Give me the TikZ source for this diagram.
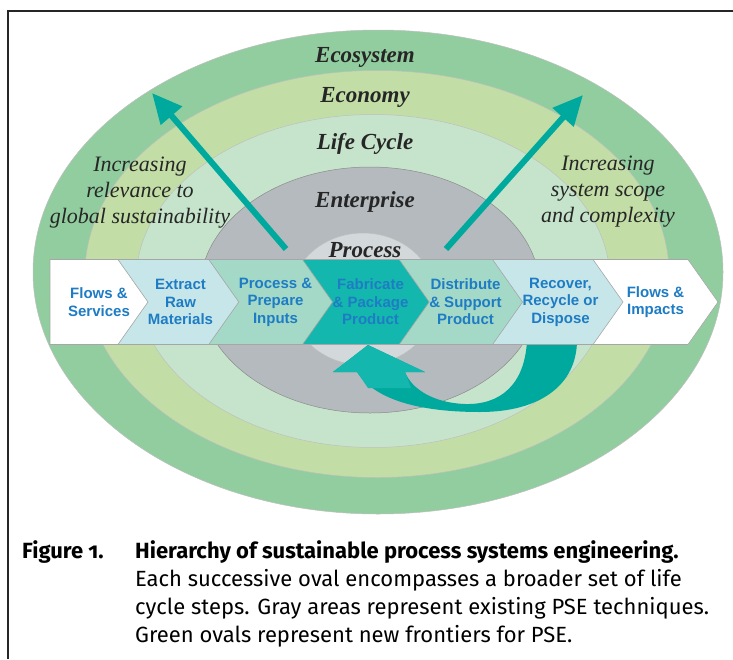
\documentclass[tikz,border=0pt]{standalone}
\usepackage{fontspec}
\setmainfont{Liberation Serif}
\setsansfont{Liberation Sans}
\newfontfamily\capfont{Fira Sans}[Numbers=OldStyle]
\usepackage{tikz}
\usetikzlibrary{shapes.geometric,shapes.symbols,arrows.meta}
\definecolor{ecogreen}{HTML}{92CD9F}
\definecolor{econgreen}{HTML}{C2DEA6}
\definecolor{lifegreen}{HTML}{C6E4CC}
\definecolor{entgray}{HTML}{B4BABD}
\definecolor{procgray}{HTML}{D3D8DB}
\definecolor{stepcyan}{HTML}{C6E6E9}
\definecolor{stepmint}{HTML}{A3D9C6}
\definecolor{stepteal}{HTML}{14B7AE}
\definecolor{arrowteal}{HTML}{00A99D}
\definecolor{stepblue}{HTML}{1E7CC4}
\newcommand{\rowy}[0] {302}

\begin{document}
\begin{tikzpicture}[x=1pt,y=-1pt,
    oval/.style={ellipse, inner sep=0pt, draw=black!25, line width=0.5pt},
    ovallabel/.style={font=\fontsize{23}{26}\selectfont\bfseries\itshape, text=black!85},
    sidetext/.style={align=center, font=\fontsize{22}{26}\selectfont\itshape, text=black!85},
    stepbox/.style={signal, signal to=east, signal from=west, signal pointer angle=109.5,
        minimum width=125pt, minimum height=85pt, inner sep=0pt, align=center,
        text=stepblue, font=\fontsize{15}{17.5}\selectfont\sffamily\bfseries,
        draw=black!35, line width=0.6pt},
    bigarrow/.style={arrowteal, line width=6pt, -{Triangle[length=30pt,width=27pt]}}]
        \useasboundingbox (0,0) rectangle (733,659);
        %frame
        \draw[line width=1.6pt, black!85] (733,11) -- (8,11) -- (8,659);
        %ovals from outside to inside
        \node[oval, fill=ecogreen, minimum width=690pt, minimum height=484pt] (ecosystem) at (378,272) {};
        \node[oval, fill=econgreen, minimum width=584pt, minimum height=407pt] (economy) at (377,274) {};
        \node[oval, fill=lifegreen, minimum width=474pt, minimum height=333pt] (lifecycle) at (373,281) {};
        \node[oval, fill=entgray, draw=black!45, minimum width=340pt, minimum height=246pt] (enterprise) at (370,290) {};
        \node[oval, fill=procgray, minimum width=146pt, minimum height=132pt] (process) at (363,299) {};
        %oval labels
        \node[ovallabel] (l_eco) at (365,57) {Ecosystem};
        \node[ovallabel] (l_econ) at (365,97) {Economy};
        \node[ovallabel] (l_life) at (365,144) {Life Cycle};
        \node[ovallabel] (l_ent) at (365,202) {Enterprise};
        \node[ovallabel] (l_proc) at (365,250) {Process};
        %side texts
        \node[sidetext] (relevance) at (140,193) {Increasing\\relevance to\\global sustainability};
        \node[sidetext] (scope) at (608,192) {Increasing\\system scope\\and complexity};
        %the two outward arrows
        \coordinate (lt) at (286,249);
        \coordinate (lh) at (152,93);
        \coordinate (rt) at (446,249);
        \coordinate (rh) at (583,95);
        \draw[bigarrow] (lt) -- (lh);
        \draw[bigarrow] (rt) -- (rh);
        %recycle arrow under the steps
        \fill[arrowteal] (527,340) .. controls (525,385) and (500,405) .. (465,404)
            .. controls (435,403) and (412,390) .. (405,372) -- (425,372) -- (368,345)
            -- (333,372) -- (357,372) .. controls (375,400) and (420,412) .. (480,412)
            .. controls (540,412) and (577,385) .. (577,340) -- cycle;
        \fill[stepteal] (405,372) -- (425,372) -- (368,345) -- (333,372) -- (357,372)
            .. controls (362,380) .. (368,388) -- (411,388) .. controls (408,380) .. cycle;
        %life cycle steps
        \node[stepbox, fill=white, signal from=nowhere, minimum width=128pt] (flowsin) at (99,\rowy) {Flows \&\\Services};
        \node[stepbox, fill=stepcyan] (extract) at (180.5,\rowy) {Extract\\Raw\\Materials};
        \node[stepbox, fill=stepmint] (prepare) at (275.5,\rowy) {Process \&\\Prepare\\Inputs};
        \node[stepbox, fill=stepteal] (fabricate) at (370.5,\rowy) {Fabricate\\\& Package\\Product};
        \node[stepbox, fill=stepmint] (distribute) at (465.5,\rowy) {Distribute\\\& Support\\Product};
        \node[stepbox, fill=stepcyan] (recover) at (560.5,\rowy) {Recover,\\Recycle or\\Dispose};
        \node[stepbox, fill=white] (flowsout) at (655.5,\rowy) {Flows \&\\Impacts};
        %caption
        \node[anchor=north west, inner sep=0pt, font=\capfont\fontsize{22}{28}\selectfont\bfseries] (fig) at (22,540) {Figure 1.};
        \node[anchor=north west, inner sep=0pt, align=left, font=\capfont\fontsize{22}{28}\selectfont] (caption) at (135,540)
            {\textbf{Hierarchy of sustainable process systems engineering.}\\
             Each successive oval encompasses a broader set of life\\
             cycle steps. Gray areas represent existing PSE techniques.\\
             Green ovals represent new frontiers for PSE.};
\end{tikzpicture}
\end{document}
